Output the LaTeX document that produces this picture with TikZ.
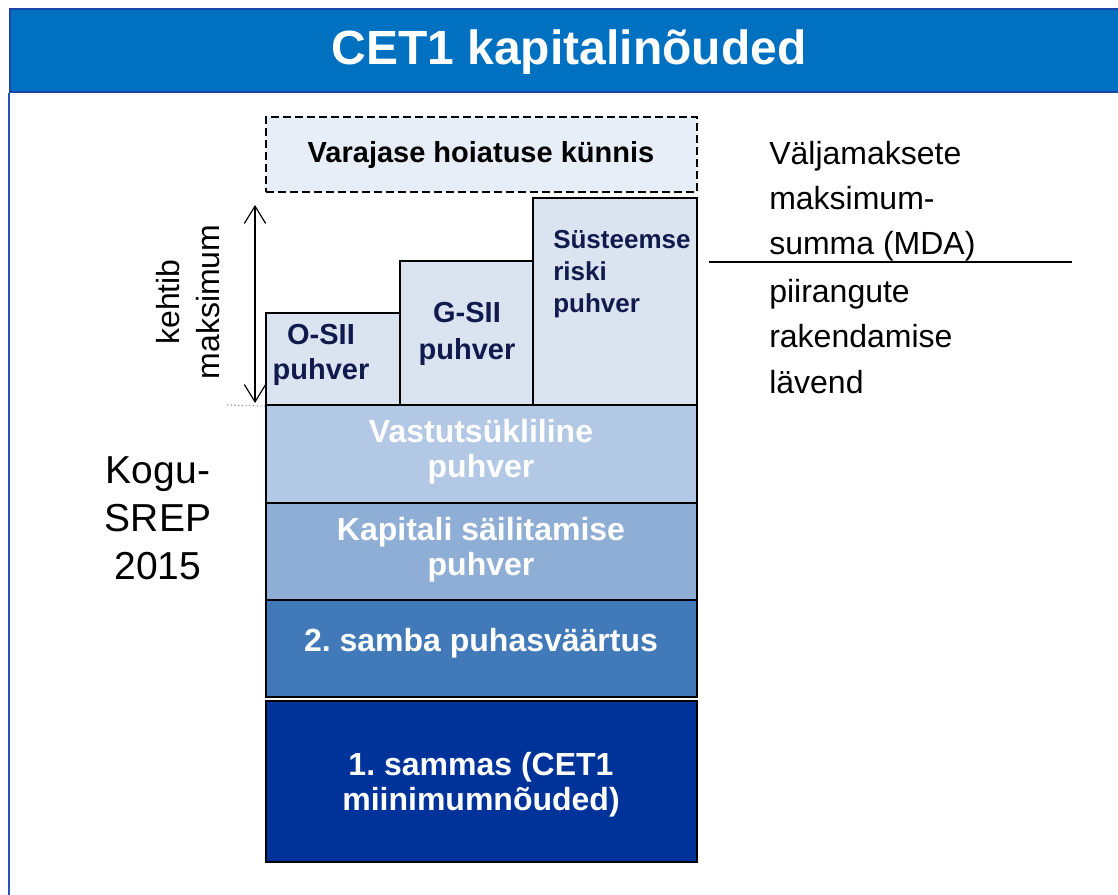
\documentclass[tikz,border=0pt]{standalone}
\usepackage{fontspec}
\setmainfont{Liberation Sans}
\frenchspacing
\usetikzlibrary{arrows.meta,fit}
\definecolor{titleblue}{HTML}{0070C0}
\definecolor{titleedge}{HTML}{1F45A8}
\definecolor{leftblue}{HTML}{2452B4}
\definecolor{dashfill}{HTML}{E8EEF7}
\definecolor{stairfill}{HTML}{DAE4F1}
\definecolor{stairtext}{HTML}{111A4C}
\definecolor{ccbfill}{HTML}{B3C8E4}
\definecolor{capfill}{HTML}{8EAED6}
\definecolor{ptwofill}{HTML}{4279B8}
\definecolor{ponefill}{HTML}{003399}
\tikzset{
  blk/.style={fit={#1}, inner sep=0pt, draw=black, line width=1.5pt},
  stairbox/.style={blk={#1}, fill=stairfill},
  stairlbl/.style={text=stairtext, align=center, inner sep=0pt,
    font=\bfseries\fontsize{21.75}{26}\selectfont},
  barlbl/.style={text=white, align=center, inner sep=0pt,
    font=\bfseries\fontsize{24}{26.25}\selectfont},
  sidetext/.style={anchor=base west, inner sep=0pt, font=\fontsize{24}{28}\selectfont},
  >={Straight Barb[length=13pt,width=16pt]}
}
\begin{document}
\begin{tikzpicture}[x=0.75pt,y=-0.75pt]
\useasboundingbox (0,0) rectangle (1118,895);
% title bar
\node[fit={(10,9)(1122,92)}, inner sep=0pt, fill=titleblue, draw=titleedge, line width=1.6pt] (title) {};
\node[text=white, inner sep=0pt, font=\bfseries\fontsize{36}{40}\selectfont] (titletext) at (569,52) {CET1 kapitalinõuded};
\coordinate (lbot) at (11,897);
\draw[leftblue, line width=2pt] (title.south west) -- (title.south west |- lbot);
% early warning box
\node[fit={(266,117)(697,192)}, inner sep=0pt, draw=black, fill=dashfill, line width=1.3pt,
      dash pattern=on 6pt off 3pt] (warn) {};
\node[inner sep=0pt, font=\bfseries\fontsize{21.75}{26}\selectfont] (warntext) at (481,155) {Varajase hoiatuse künnis};
% stair boxes
\node[stairbox={(266,313)(400,405)}] (osii) {};
\node[stairlbl] (osiit) at (321,355) {O-SII\\puhver};
\node[stairbox={(400,261)(533,405)}] (gsii) {};
\node[stairlbl, font=\bfseries\fontsize{21.75}{27.5}\selectfont] (gsiit) at (467,334) {G-SII\\puhver};
\node[stairbox={(533,198)(697,405)}] (srb) {};
\node[stairlbl, font=\bfseries\fontsize{19.5}{24}\selectfont, align=left, anchor=north west] (srbt) at (553,230) {Süsteemse\\riski\\puhver};
% main stack
\node[blk={(266,405)(697,503)}, fill=ccbfill] (ccb) {};
\node[barlbl] (ccbt) at (481,452) {Vastutsükliline\\puhver};
\node[blk={(266,503)(697,600)}, fill=capfill] (cap) {};
\node[barlbl] (capt) at (481,550) {Kapitali säilitamise\\puhver};
\node[blk={(266,600)(697,697)}, fill=ptwofill] (p2) {};
\node[barlbl] (p2t) at (481,643) {2. samba puhasväärtus};
\node[blk={(266,701)(697,862)}, fill=ponefill] (p1) {};
\node[barlbl] (p1t) at (481,785) {1. sammas (CET1\\miinimumnõuded)};
% arrow and dotted guide
\coordinate (atop) at (255,205);
\coordinate (abot) at (255,403);
\draw[<->, line width=0.9pt] (atop) -- (abot);
\coordinate (dotstart) at (227,405);
\draw[gray, dotted, line width=0.8pt] (dotstart) -- (osii.south west);
\node[rotate=90, align=center, inner sep=0pt, font=\fontsize{24}{30}\selectfont] (kehtib) at (188,302) {kehtib\\maksimum};
% left label
\node[align=center, inner sep=0pt, font=\fontsize{29.25}{36}\selectfont] (kogu) at (158,518) {Kogu-\\SREP\\2015};
% right text
\node[sidetext] (r1) at (769,165) {Väljamaksete};
\node[sidetext] (r2) at (769,210) {maksimum-};
\node[sidetext] (r3) at (769,255) {summa (MDA)};
\node[sidetext] (r4) at (769,302) {piirangute};
\node[sidetext] (r5) at (769,347) {rakendamise};
\node[sidetext] (r6) at (769,393) {lävend};
\coordinate (mdaL) at (709,262);
\coordinate (mdaR) at (1072,262);
\draw[line width=1.3pt] (mdaL) -- (mdaR);
\end{tikzpicture}
\end{document}
